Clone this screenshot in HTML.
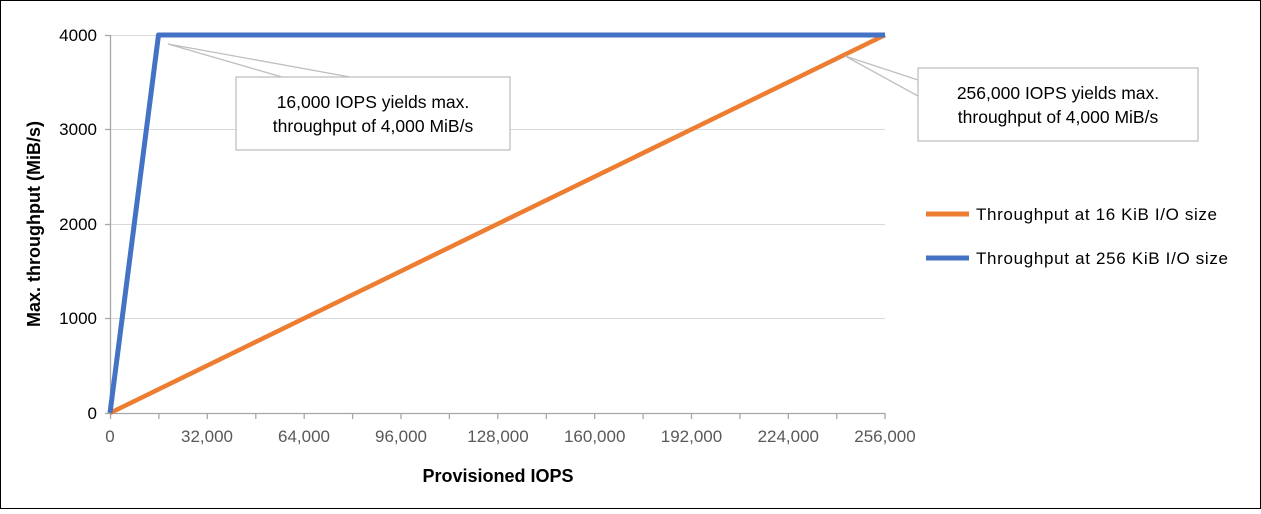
<!DOCTYPE html>
<html><head><meta charset="utf-8"><style>
html,body{margin:0;padding:0;background:#fff}
svg text{font-family:"Liberation Sans",sans-serif}
</style></head><body>
<svg width="1261" height="509" viewBox="0 0 1261 509" xmlns="http://www.w3.org/2000/svg">
<rect x="0.5" y="0.5" width="1260" height="508" fill="#fff" stroke="#000"/>
<g stroke="#d9d9d9" stroke-width="1">
<line x1="110" y1="35.5" x2="885" y2="35.5"/>
<line x1="110" y1="129.5" x2="885" y2="129.5"/>
<line x1="110" y1="224.5" x2="885" y2="224.5"/>
<line x1="110" y1="318.5" x2="885" y2="318.5"/>
</g>
<g stroke="#a6a6a6" stroke-width="1.3">
<line x1="110.5" y1="35" x2="110.5" y2="413"/>
<line x1="110" y1="413.5" x2="885" y2="413.5"/>
<line x1="105" y1="35.5" x2="110" y2="35.5"/>
<line x1="105" y1="129.5" x2="110" y2="129.5"/>
<line x1="105" y1="224.5" x2="110" y2="224.5"/>
<line x1="105" y1="318.5" x2="110" y2="318.5"/>
<line x1="105" y1="413.5" x2="110" y2="413.5"/>
<line x1="110.5" y1="413" x2="110.5" y2="419"/><line x1="158.9" y1="413" x2="158.9" y2="419"/><line x1="207.3" y1="413" x2="207.3" y2="419"/><line x1="255.8" y1="413" x2="255.8" y2="419"/><line x1="304.2" y1="413" x2="304.2" y2="419"/><line x1="352.6" y1="413" x2="352.6" y2="419"/><line x1="401" y1="413" x2="401" y2="419"/><line x1="449.4" y1="413" x2="449.4" y2="419"/><line x1="497.8" y1="413" x2="497.8" y2="419"/><line x1="546.3" y1="413" x2="546.3" y2="419"/><line x1="594.7" y1="413" x2="594.7" y2="419"/><line x1="643.1" y1="413" x2="643.1" y2="419"/><line x1="691.5" y1="413" x2="691.5" y2="419"/><line x1="739.9" y1="413" x2="739.9" y2="419"/><line x1="788.3" y1="413" x2="788.3" y2="419"/><line x1="836.8" y1="413" x2="836.8" y2="419"/><line x1="885" y1="413" x2="885" y2="419"/>
</g>
<g font-size="17" fill="#000" text-anchor="end">
<text x="97" y="41">4000</text><text x="97" y="135">3000</text><text x="97" y="230">2000</text><text x="97" y="324">1000</text><text x="97" y="419">0</text>
</g>
<g font-size="17" fill="#595959" text-anchor="middle">
<text x="110" y="442">0</text><text x="207" y="442">32,000</text><text x="304" y="442">64,000</text><text x="401" y="442">96,000</text><text x="498" y="442">128,000</text><text x="594.7" y="442">160,000</text><text x="691.5" y="442">192,000</text><text x="788.3" y="442">224,000</text><text x="885" y="442">256,000</text>
</g>
<text x="498" y="482" font-size="18" font-weight="bold" text-anchor="middle">Provisioned IOPS</text>
<text transform="translate(40,224) rotate(-90)" font-size="18" font-weight="bold" text-anchor="middle">Max. throughput (MiB/s)</text>
<polyline points="110,413 885,35" fill="none" stroke="#ed7d31" stroke-width="4.5"/>
<polyline points="110,413 158.5,35 885,35" fill="none" stroke="#4472c4" stroke-width="5" stroke-linejoin="round"/>
<g stroke="#bfbfbf" stroke-width="1.3" fill="none">
<polyline points="282,77 168,44 350,77"/>
<polyline points="918,80 845,56 918,96"/>
</g>
<rect x="236" y="77" width="274" height="73" fill="#fff" stroke="#bfbfbf" stroke-width="1.3"/>
<text x="373" y="108" font-size="17.5" text-anchor="middle">16,000 IOPS yields max.</text>
<text x="373" y="132" font-size="17.5" text-anchor="middle">throughput of 4,000 MiB/s</text>
<rect x="918" y="68" width="280" height="73" fill="#fff" stroke="#bfbfbf" stroke-width="1.3"/>
<text x="1058" y="99" font-size="17.5" text-anchor="middle">256,000 IOPS yields max.</text>
<text x="1058" y="123" font-size="17.5" text-anchor="middle">throughput of 4,000 MiB/s</text>
<line x1="926" y1="214" x2="969" y2="214" stroke="#ed7d31" stroke-width="5"/>
<text x="976" y="220" font-size="17" fill="#000" textLength="241">Throughput at 16 KiB I/O size</text>
<line x1="926" y1="258" x2="969" y2="258" stroke="#4472c4" stroke-width="5"/>
<text x="976" y="264" font-size="17" fill="#000" textLength="252">Throughput at 256 KiB I/O size</text>
</svg>
</body></html>
